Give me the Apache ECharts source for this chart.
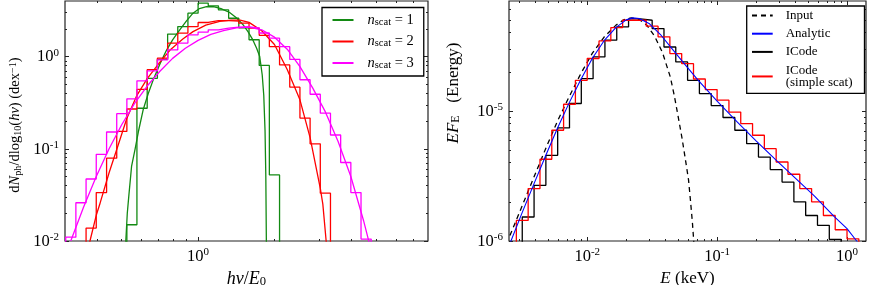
<!DOCTYPE html>
<html><head><meta charset="utf-8">
<script src="https://cdn.jsdelivr.net/npm/echarts@6/dist/echarts.min.js"></script>
<style>html,body{margin:0;padding:0;background:#fff}#c{width:872px;height:285px}</style>
</head><body><div id="c"></div>
<script>
// ---------------- LEFT PANEL DATA ----------------
const leftXRange = [0.3, 8];
const leftYRange = [0.01, 4];
const leftXMajor = [1];
const leftYMajor = [0.01, 0.1, 1];
const leftXMinor = [0.4, 0.5, 0.6, 0.7, 0.8, 0.9, 2, 3, 4, 5, 6, 7];
const leftYMinor = [0.02, 0.03, 0.04, 0.05, 0.06, 0.07, 0.08, 0.09, 0.2, 0.3, 0.4, 0.5, 0.6, 0.7, 0.8, 0.9, 2, 3];
const leftBinEdges = [0.302, 0.331, 0.363, 0.398, 0.437, 0.479, 0.525, 0.575, 0.631, 0.692, 0.759, 0.832, 0.912, 1.000,
  1.096, 1.202, 1.318, 1.445, 1.585, 1.738, 1.905, 2.089, 2.291, 2.512, 2.754, 3.020, 3.311, 3.631, 3.981, 4.365, 4.786];
const histN1 = [null, null, null, null, null, null, 0.015, 0.275, 0.58, 0.93, 1.75, 2.11, 2.95, 3.8, 3.55, 3.2, 2.6, 2.05, 1.52, 0.8, 0.052,
  null, null, null, null, null, null, null, null, null];
const histN2 = [null, null, 0.0138, 0.0335, 0.079, 0.154, 0.27, 0.44, 0.72, 0.96, 1.40, 1.79, 2.11, 2.34, 2.45, 2.45, 2.42, 2.30, 2.03,
  1.70, 1.28, 0.81, 0.465, 0.215, 0.113, 0.033, null, null, null, null];
const histN3 = [0.011, 0.026, 0.047, 0.087, 0.152, 0.24, 0.348, 0.545, 0.70, 0.92, 1.18, 1.40, 1.72, 1.84, 1.95, 2.03, 2.08, 2.10, 2.05,
  1.80, 1.58, 1.28, 0.93, 0.56, 0.39, 0.243, 0.141, 0.071, 0.0335, 0.0105];
const curveN1X = [0.517, 0.520, 0.527, 0.535, 0.548, 0.565, 0.582, 0.608, 0.637, 0.667, 0.708, 0.752, 0.794, 0.847, 0.902, 0.955, 1.012, 1.079,
  1.148, 1.230, 1.330, 1.413, 1.496, 1.570, 1.641, 1.698, 1.746, 1.786, 1.811, 1.832, 1.845, 1.854, 1.857];
const curveN1Y = [0.004, 0.010, 0.020, 0.032, 0.065, 0.098, 0.151, 0.263, 0.398, 0.562, 0.832, 1.175, 1.514, 1.95, 2.455, 2.951, 3.311, 3.483,
  3.467, 3.311, 3.0, 2.63, 2.239, 1.862, 1.514, 1.23, 1.0, 0.631, 0.380, 0.158, 0.050, 0.010, 0.004];
const curveN2X = [0.370, 0.376, 0.398, 0.412, 0.447, 0.479, 0.525, 0.575, 0.631, 0.708, 0.776, 0.871, 0.955, 1.072, 1.216, 1.349, 1.462,
  1.585, 1.778, 1.995, 2.239, 2.512, 2.754, 3.020, 3.090, 3.184, 3.22];
const curveN2Y = [0.007, 0.010, 0.019, 0.0257, 0.055, 0.098, 0.214, 0.380, 0.575, 0.871, 1.175, 1.549, 1.862, 2.188, 2.399, 2.483, 2.483,
  2.344, 1.905, 1.349, 0.724, 0.339, 0.132, 0.0372, 0.0251, 0.010, 0.006];
const curveN3X = [0.316, 0.355, 0.398, 0.447, 0.501, 0.562, 0.631, 0.708, 0.794, 0.891, 1.000, 1.122, 1.259, 1.413, 1.585, 1.778, 1.995,
  2.239, 2.512, 2.818, 3.162, 3.548, 3.981, 4.467, 4.732];
const curveN3Y = [0.010, 0.0234, 0.050, 0.100, 0.182, 0.309, 0.479, 0.692, 0.955, 1.230, 1.496, 1.738, 1.905, 2.042, 2.089, 1.950, 1.622,
  1.202, 0.776, 0.457, 0.251, 0.120, 0.050, 0.0166, 0.0089];

// ---------------- RIGHT PANEL DATA ----------------
const rightXRange = [0.0025, 1.4];
const rightYRange = [1e-6, 7e-5];
const rightXMajor = [0.01, 0.1, 1];
const rightYMajor = [1e-6, 1e-5];
const rightXMinor = [0.003, 0.004, 0.005, 0.006, 0.007, 0.008, 0.009, 0.02, 0.03, 0.04, 0.05, 0.06, 0.07, 0.08, 0.09,
  0.2, 0.3, 0.4, 0.5, 0.6, 0.7, 0.8, 0.9];
const rightYMinor = [2e-6, 3e-6, 4e-6, 5e-6, 6e-6, 7e-6, 8e-6, 9e-6, 2e-5, 3e-5, 4e-5, 5e-5, 6e-5];
const inputX = [0.002541, 0.003162, 0.00389, 0.004786, 0.005888, 0.007244, 0.008913, 0.01096, 0.01349, 0.0166, 0.01905, 0.02188, 0.02512,
  0.02884, 0.03311, 0.03802, 0.04365, 0.04677, 0.05070, 0.05370, 0.05715, 0.06026, 0.06237, 0.06457, 0.06607, 0.06761];
const inputY = [1.10e-6, 1.87e-6, 3.10e-6, 5.12e-6, 8.30e-6, 1.28e-5, 1.93e-5, 2.78e-5, 3.70e-5, 4.55e-5, 5.02e-5, 5.20e-5, 5.05e-5,
  4.55e-5, 3.74e-5, 2.80e-5, 1.82e-5, 1.318e-5, 8.51e-6, 6.166e-6, 4.169e-6, 2.951e-6, 2.042e-6, 1.380e-6, 1.0e-6, 7.08e-7];
const analyticX = [0.002541, 0.003162, 0.003890, 0.004786, 0.005888, 0.007244, 0.008913, 0.01096, 0.01349, 0.01660, 0.01995, 0.02239, 0.02512,
  0.03020, 0.03715, 0.04571, 0.05623, 0.07079, 0.1, 0.1413, 0.1995, 0.2818, 0.3981, 0.5623, 0.7943, 1.0, 1.186, 1.259];
const analyticY = [9.55e-7, 1.66e-6, 2.75e-6, 4.52e-6, 7.33e-6, 1.148e-5, 1.738e-5, 2.541e-5, 3.467e-5, 4.365e-5, 5.012e-5, 5.19e-5, 5.13e-5,
  4.677e-5, 3.802e-5, 2.951e-5, 2.291e-5, 1.738e-5, 1.189e-5, 8.32e-6, 5.89e-6, 4.217e-6, 3.055e-6, 2.213e-6, 1.549e-6, 1.245e-6, 1.0e-6, 9.33e-7];
const icodeEdges = [0.002565, 0.003162, 0.003899, 0.004806, 0.005925, 0.007305, 0.009006, 0.01110, 0.01369, 0.01688, 0.02081, 0.02565, 0.03162,
  0.03899, 0.04806, 0.05925, 0.07305, 0.09006, 0.1110, 0.1369, 0.1688, 0.2081, 0.2565, 0.3162, 0.3899, 0.4806, 0.5925, 0.7305, 0.9006];
const icodeValues = [null, 1.53e-6, 2.68e-6, 4.56e-6, 7.4e-6, 1.14e-5, 1.77e-5, 2.6e-5, 3.5e-5, 4.42e-5, 5.1e-5, 4.98e-5, 4.3e-5, 3.1e-5,
  2.38e-5, 1.72e-5, 1.36e-5, 1.1e-5, 8.9e-6, 7.1e-6, 5.6e-6, 4.42e-6, 3.54e-6, 2.84e-6, 2.0e-6, 1.57e-6, 1.32e-6, 1.03e-6];
const simpleEdges = [0.002848, 0.003511, 0.004329, 0.005337, 0.006579, 0.008111, 0.01, 0.01233, 0.01520, 0.01874, 0.02310, 0.02848, 0.03511,
  0.04329, 0.05337, 0.06579, 0.08111, 0.1, 0.1233, 0.1520, 0.1874, 0.2310, 0.2848, 0.3511, 0.4329, 0.5337, 0.6579, 0.8111, 1.0, 1.233];
const simpleValues = [1.44e-6, 2.53e-6, 4.25e-6, 7.1e-6, 1.125e-5, 1.72e-5, 2.53e-5, 3.45e-5, 4.37e-5, 4.98e-5, 4.98e-5, 4.48e-5, 3.71e-5,
  2.76e-5, 2.31e-5, 1.76e-5, 1.46e-5, 1.21e-5, 9.8e-6, 8.0e-6, 6.5e-6, 5.13e-6, 4.05e-6, 3.26e-6, 2.53e-6, 2.0e-6, 1.57e-6, 1.22e-6, 1.04e-6];

// ---------------- BUILD ----------------
const SERIF = "'Liberation Serif','DejaVu Serif',serif";
const L = Math.log10;
const pts = (xs, ys) => xs.map((x, i) => [L(x), L(ys[i])]);
function histOutline(edges, vals, floor) {
  const out = [];
  let open = false;
  for (let i = 0; i < vals.length; i++) {
    const v = vals[i];
    if (v == null) {
      if (open) { out.push([L(edges[i]), L(floor)]); open = false; }
      continue;
    }
    if (!open) { out.push([L(edges[i]), L(floor)]); open = true; }
    out.push([L(edges[i]), L(v)]);
    out.push([L(edges[i + 1]), L(v)]);
  }
  if (open) out.push([L(edges[vals.length]), L(floor)]);
  return out;
}

const tickColor = '#222';
const labelRich = {
  b: { fontFamily: SERIF, fontSize: 16.5, color: '#000', lineHeight: 18, verticalAlign: 'bottom' },
  s: { fontFamily: SERIF, fontSize: 11, color: '#000', lineHeight: 11, verticalAlign: 'top' }
};
const expFmt = v => '{b|10}{s|' + Math.round(v) + '}';

function axis(gridIndex, range, pos, ticks, len, labelVals, extra) {
  const a = {
    type: 'value', gridIndex, position: pos, min: L(range[0]), max: L(range[1]),
    axisLine: { show: false, onZero: false },
    splitLine: { show: false },
    axisTick: { show: true, inside: true, length: len, customValues: ticks.map(L), lineStyle: { color: tickColor, width: 1 } },
    axisLabel: labelVals ? { show: true, customValues: labelVals.map(L), formatter: expFmt, margin: 6, rich: labelRich } : { show: false },
    silent: true
  };
  return Object.assign(a, extra || {});
}

function nameRich(fs) {
  return {
    r: { fontFamily: SERIF, fontSize: fs, color: '#000' },
    i: { fontFamily: SERIF, fontSize: fs, fontStyle: 'italic', color: '#000' },
    sb: { fontFamily: SERIF, fontSize: fs * 0.7, color: '#000', verticalAlign: 'bottom' },
    sp: { fontFamily: SERIF, fontSize: fs * 0.7, color: '#000', verticalAlign: 'top' }
  };
}

const xAxes = [
  axis(0, leftXRange, 'bottom', leftXMajor, 4, leftXMajor, {
    name: '{i|hν}{r|/}{i|E}{sb|0}', nameLocation: 'middle', nameGap: 24, nameTextStyle: { rich: nameRich(18) } }),
  axis(0, leftXRange, 'bottom', leftXMinor, 2, null),
  axis(0, leftXRange, 'top', leftXMajor, 4, null),
  axis(0, leftXRange, 'top', leftXMinor, 2, null),
  axis(1, rightXRange, 'bottom', rightXMajor, 4, rightXMajor, {
    name: '{i|E}{r| (keV)}', nameLocation: 'middle', nameGap: 24, nameTextStyle: { rich: nameRich(17) } }),
  axis(1, rightXRange, 'bottom', rightXMinor, 2, null),
  axis(1, rightXRange, 'top', rightXMajor, 4, null),
  axis(1, rightXRange, 'top', rightXMinor, 2, null)
];
const yAxes = [
  axis(0, leftYRange, 'left', leftYMajor, 4, leftYMajor, {
    name: '{r|d}{i|N}{sb|ph}{r|/dlog}{sb|10}{r|(}{i|hν}{r|) (dex}{sp|−1}{r|)}',
    nameLocation: 'middle', nameRotate: 90, nameGap: 42, nameTextStyle: { rich: nameRich(14.5), padding: [0, 8, 0, 0] } }),
  axis(0, leftYRange, 'left', leftYMinor, 2, null),
  axis(0, leftYRange, 'right', leftYMajor, 4, null),
  axis(0, leftYRange, 'right', leftYMinor, 2, null),
  axis(1, rightYRange, 'left', rightYMajor, 4, rightYMajor, {
    name: '{i|EF}{sb|E}{r|   (Energy)}',
    nameLocation: 'middle', nameRotate: 90, nameGap: 47, nameTextStyle: { rich: nameRich(17), padding: [0, 0, 0, 56] } }),
  axis(1, rightYRange, 'left', rightYMinor, 2, null),
  axis(1, rightYRange, 'right', rightYMajor, 4, null),
  axis(1, rightYRange, 'right', rightYMinor, 2, null)
];

const GREEN = '#138a13', RED = '#ff0000', MAG = '#ff00ff', BLUE = '#0000ff', BLACK = '#000000';
const FLOOR = 1e-9;
function line(name, data, color, g, extra) {
  return Object.assign({
    type: 'line', name, data, xAxisIndex: g * 4, yAxisIndex: g * 4,
    symbol: 'none', showSymbol: false, clip: true, silent: true, animation: false,
    lineStyle: { color, width: 1.3 }, itemStyle: { color }
  }, extra || {});
}
const N1 = 'n1', N2 = 'n2', N3 = 'n3';
const series = [
  line(N1, histOutline(leftBinEdges, histN1, FLOOR), GREEN, 0),
  line(N1, pts(curveN1X, curveN1Y), GREEN, 0),
  line(N2, histOutline(leftBinEdges, histN2, FLOOR), RED, 0),
  line(N2, pts(curveN2X, curveN2Y), RED, 0),
  line(N3, histOutline(leftBinEdges, histN3, FLOOR), MAG, 0),
  line(N3, pts(curveN3X, curveN3Y), MAG, 0),
  line('Input', pts(inputX, inputY), BLACK, 1, { lineStyle: { color: BLACK, width: 1.3, type: [5, 4] } }),
  line('ICode', histOutline(icodeEdges, icodeValues, FLOOR), BLACK, 1),
  line('ICode (simple scat)', histOutline(simpleEdges, simpleValues, FLOOR), RED, 1),
  line('Analytic', pts(analyticX, analyticY), BLUE, 1, { lineStyle: { color: BLUE, width: 1.1 } })
];

const legendRich = {
  i: { fontFamily: SERIF, fontSize: 14.5, fontStyle: 'italic', color: '#000' },
  sb: { fontFamily: SERIF, fontSize: 10.5, color: '#000', verticalAlign: 'bottom' },
  r: { fontFamily: SERIF, fontSize: 14.5, color: '#000' }
};
const nLabels = { n1: '1', n2: '2', n3: '3' };

const option = {
  animation: false,
  backgroundColor: '#fff',
  textStyle: { fontFamily: SERIF },
  grid: [
    { left: 65, top: 1, width: 363, height: 240, show: true, borderColor: tickColor, borderWidth: 1.2, containLabel: false, outerBoundsMode: 'none' },
    { left: 509, top: 1, width: 357, height: 240, show: true, borderColor: tickColor, borderWidth: 1.2, containLabel: false, outerBoundsMode: 'none' }
  ],
  xAxis: xAxes,
  yAxis: yAxes,
  legend: [
    {
      data: [N1, N2, N3], orient: 'vertical', left: 322, top: 7.5,
      padding: [5, 10, 5.5, 9.5], itemWidth: 21, itemHeight: 16, itemGap: 6.5,
      borderColor: '#000', borderWidth: 1.3, backgroundColor: '#fff', selectedMode: false,
      itemStyle: { opacity: 0 },
      formatter: n => '{i|n}{sb|scat}{r| = ' + nLabels[n] + '}',
      textStyle: { fontFamily: SERIF, fontSize: 14.5, color: '#000', rich: legendRich, padding: [0, 0, 0, 9] }
    },
    {
      data: ['Input', 'Analytic', 'ICode', 'ICode (simple scat)'], orient: 'vertical', left: 746.7, top: 6,
      padding: [3, 12, 4, 4.3], itemWidth: 20.7, itemHeight: 14, itemGap: 5.2,
      borderColor: '#000', borderWidth: 1.3, backgroundColor: '#fff', selectedMode: false,
      itemStyle: { opacity: 0 },
      formatter: n => n === 'ICode (simple scat)' ? 'ICode\n(simple scat)' : n,
      textStyle: { fontFamily: SERIF, fontSize: 13, lineHeight: 12.7, color: '#000', padding: [0, 0, 0, 8] }
    }
  ],
  series
};
const chart = echarts.init(document.getElementById('c'), null, { renderer: 'canvas' });
chart.setOption(option);
</script></body></html>
